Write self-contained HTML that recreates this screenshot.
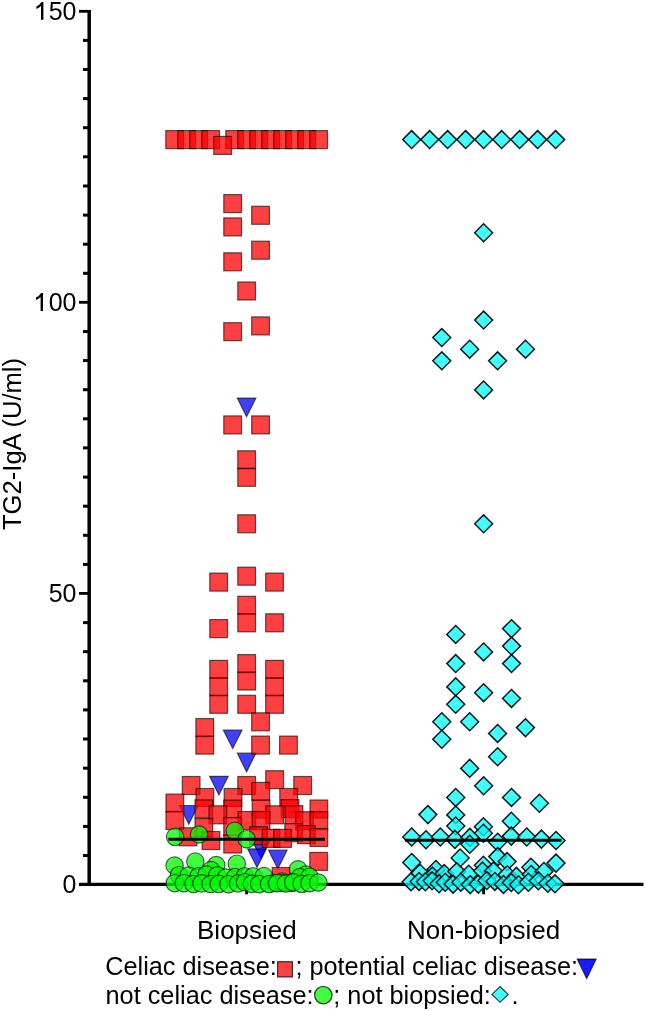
<!DOCTYPE html>
<html><head><meta charset="utf-8"><style>
html,body{margin:0;padding:0;background:#fff;}
body{width:645px;height:1011px;position:relative;overflow:hidden;}
svg.main{position:absolute;left:0;top:0;will-change:transform;}
</style></head><body>
<svg class="main" width="645" height="1011" viewBox="0 0 645 1011">
<g stroke="#000" fill="none">
<line x1="89.2" y1="9.9" x2="89.2" y2="886" stroke-width="3.5"/>
<line x1="79" y1="884.4" x2="643.5" y2="884.4" stroke-width="3.2"/>
<line x1="83" y1="855.5" x2="89" y2="855.5" stroke-width="3"/>
<line x1="83" y1="826.4" x2="89" y2="826.4" stroke-width="3"/>
<line x1="83" y1="797.3" x2="89" y2="797.3" stroke-width="3"/>
<line x1="83" y1="768.2" x2="89" y2="768.2" stroke-width="3"/>
<line x1="83" y1="739.0" x2="89" y2="739.0" stroke-width="3"/>
<line x1="83" y1="709.9" x2="89" y2="709.9" stroke-width="3"/>
<line x1="83" y1="680.8" x2="89" y2="680.8" stroke-width="3"/>
<line x1="83" y1="651.7" x2="89" y2="651.7" stroke-width="3"/>
<line x1="83" y1="622.6" x2="89" y2="622.6" stroke-width="3"/>
<line x1="83" y1="564.4" x2="89" y2="564.4" stroke-width="3"/>
<line x1="83" y1="535.3" x2="89" y2="535.3" stroke-width="3"/>
<line x1="83" y1="506.2" x2="89" y2="506.2" stroke-width="3"/>
<line x1="83" y1="477.1" x2="89" y2="477.1" stroke-width="3"/>
<line x1="83" y1="447.9" x2="89" y2="447.9" stroke-width="3"/>
<line x1="83" y1="418.8" x2="89" y2="418.8" stroke-width="3"/>
<line x1="83" y1="389.7" x2="89" y2="389.7" stroke-width="3"/>
<line x1="83" y1="360.6" x2="89" y2="360.6" stroke-width="3"/>
<line x1="83" y1="331.5" x2="89" y2="331.5" stroke-width="3"/>
<line x1="83" y1="273.3" x2="89" y2="273.3" stroke-width="3"/>
<line x1="83" y1="244.2" x2="89" y2="244.2" stroke-width="3"/>
<line x1="83" y1="215.1" x2="89" y2="215.1" stroke-width="3"/>
<line x1="83" y1="186.0" x2="89" y2="186.0" stroke-width="3"/>
<line x1="83" y1="156.8" x2="89" y2="156.8" stroke-width="3"/>
<line x1="83" y1="127.7" x2="89" y2="127.7" stroke-width="3"/>
<line x1="83" y1="98.6" x2="89" y2="98.6" stroke-width="3"/>
<line x1="83" y1="69.5" x2="89" y2="69.5" stroke-width="3"/>
<line x1="83" y1="40.4" x2="89" y2="40.4" stroke-width="3"/>
<line x1="79" y1="593.4" x2="89" y2="593.4" stroke-width="2.8"/>
<line x1="79" y1="302.3" x2="89" y2="302.3" stroke-width="2.8"/>
<line x1="79" y1="11.3" x2="89" y2="11.3" stroke-width="2.8"/>
<line x1="246.6" y1="885" x2="246.6" y2="894.3" stroke-width="2.8"/>
<line x1="483.6" y1="885" x2="483.6" y2="894.3" stroke-width="2.8"/>
</g>
<g fill="#0000ff" fill-opacity="0.75" stroke="rgba(0,0,0,0.62)" stroke-width="1.2">
<path d="M237.3 398.1H255.9L246.6 416.7Z"/>
<path d="M223.3 730.0H242.0L232.7 748.5Z"/>
<path d="M237.3 753.2H255.9L246.6 771.8Z"/>
<path d="M209.6 776.3H228.2L218.9 794.9Z"/>
<path d="M179.5 805.5H198.1L188.8 824.1Z"/>
<path d="M251.7 839.7H270.3L261.0 858.3Z"/>
<path d="M247.7 848.9H266.3L257.0 867.5Z"/>
<path d="M268.5 850.2H287.1L277.8 868.8Z"/>
</g>
<g fill="#ff0000" fill-opacity="0.75" stroke="rgba(0,0,0,0.62)" stroke-width="1.2">
<rect x="165.8" y="130.6" width="17.7" height="18.0"/>
<rect x="177.8" y="130.6" width="17.7" height="18.0"/>
<rect x="189.8" y="130.6" width="17.7" height="18.0"/>
<rect x="201.8" y="130.6" width="17.7" height="18.0"/>
<rect x="225.8" y="130.6" width="17.7" height="18.0"/>
<rect x="237.8" y="130.6" width="17.7" height="18.0"/>
<rect x="249.8" y="130.6" width="17.7" height="18.0"/>
<rect x="261.8" y="130.6" width="17.7" height="18.0"/>
<rect x="273.8" y="130.6" width="17.7" height="18.0"/>
<rect x="285.8" y="130.6" width="17.7" height="18.0"/>
<rect x="297.8" y="130.6" width="17.7" height="18.0"/>
<rect x="309.8" y="130.6" width="17.7" height="18.0"/>
<rect x="213.8" y="136.4" width="17.7" height="18.0"/>
<rect x="223.8" y="194.6" width="17.7" height="18.0"/>
<rect x="251.7" y="206.3" width="17.7" height="18.0"/>
<rect x="223.8" y="217.9" width="17.7" height="18.0"/>
<rect x="251.7" y="241.2" width="17.7" height="18.0"/>
<rect x="223.8" y="252.8" width="17.7" height="18.0"/>
<rect x="237.8" y="282.0" width="17.7" height="18.0"/>
<rect x="251.7" y="316.9" width="17.7" height="18.0"/>
<rect x="223.8" y="322.7" width="17.7" height="18.0"/>
<rect x="223.8" y="415.9" width="17.7" height="18.0"/>
<rect x="251.7" y="415.9" width="17.7" height="18.0"/>
<rect x="237.8" y="450.8" width="17.7" height="18.0"/>
<rect x="237.8" y="468.3" width="17.7" height="18.0"/>
<rect x="237.8" y="514.8" width="17.7" height="18.0"/>
<rect x="209.8" y="573.1" width="17.7" height="18.0"/>
<rect x="237.8" y="567.2" width="17.7" height="18.0"/>
<rect x="265.7" y="573.1" width="17.7" height="18.0"/>
<rect x="237.8" y="596.3" width="17.7" height="18.0"/>
<rect x="237.8" y="613.8" width="17.7" height="18.0"/>
<rect x="209.8" y="619.6" width="17.7" height="18.0"/>
<rect x="265.7" y="613.8" width="17.7" height="18.0"/>
<rect x="209.8" y="660.4" width="17.7" height="18.0"/>
<rect x="209.8" y="677.9" width="17.7" height="18.0"/>
<rect x="209.8" y="695.3" width="17.7" height="18.0"/>
<rect x="265.7" y="660.4" width="17.7" height="18.0"/>
<rect x="265.7" y="677.9" width="17.7" height="18.0"/>
<rect x="265.7" y="695.3" width="17.7" height="18.0"/>
<rect x="237.8" y="654.6" width="17.7" height="18.0"/>
<rect x="237.8" y="672.0" width="17.7" height="18.0"/>
<rect x="237.8" y="695.3" width="17.7" height="18.0"/>
<rect x="251.7" y="712.8" width="17.7" height="18.0"/>
<rect x="195.9" y="718.6" width="17.7" height="18.0"/>
<rect x="195.9" y="736.1" width="17.7" height="18.0"/>
<rect x="251.7" y="736.1" width="17.7" height="18.0"/>
<rect x="279.6" y="736.1" width="17.7" height="18.0"/>
<rect x="265.8" y="770.7" width="17.7" height="18.0"/>
<rect x="182.3" y="776.5" width="17.7" height="18.0"/>
<rect x="237.8" y="776.5" width="17.7" height="18.0"/>
<rect x="293.8" y="776.5" width="17.7" height="18.0"/>
<rect x="251.8" y="782.4" width="17.7" height="18.0"/>
<rect x="196.0" y="788.5" width="17.7" height="18.0"/>
<rect x="224.2" y="788.5" width="17.7" height="18.0"/>
<rect x="279.8" y="788.5" width="17.7" height="18.0"/>
<rect x="166.0" y="794.1" width="17.7" height="18.0"/>
<rect x="195.0" y="799.9" width="17.7" height="18.0"/>
<rect x="223.8" y="800.1" width="17.7" height="18.0"/>
<rect x="252.2" y="800.0" width="17.7" height="18.0"/>
<rect x="281.2" y="799.6" width="17.7" height="18.0"/>
<rect x="310.0" y="800.0" width="17.7" height="18.0"/>
<rect x="209.0" y="805.8" width="17.7" height="18.0"/>
<rect x="265.8" y="805.8" width="17.7" height="18.0"/>
<rect x="285.1" y="805.6" width="17.7" height="18.0"/>
<rect x="166.0" y="811.5" width="17.7" height="18.0"/>
<rect x="238.0" y="811.5" width="17.7" height="18.0"/>
<rect x="252.2" y="811.5" width="17.7" height="18.0"/>
<rect x="295.7" y="811.7" width="17.7" height="18.0"/>
<rect x="310.0" y="811.7" width="17.7" height="18.0"/>
<rect x="195.0" y="818.6" width="17.7" height="18.0"/>
<rect x="223.8" y="817.5" width="17.7" height="18.0"/>
<rect x="179.2" y="827.8" width="17.7" height="18.0"/>
<rect x="249.7" y="826.7" width="17.7" height="18.0"/>
<rect x="284.8" y="823.7" width="17.7" height="18.0"/>
<rect x="297.5" y="825.6" width="17.7" height="18.0"/>
<rect x="310.0" y="828.5" width="17.7" height="18.0"/>
<rect x="202.1" y="831.5" width="17.7" height="18.0"/>
<rect x="223.8" y="835.0" width="17.7" height="18.0"/>
<rect x="262.2" y="829.4" width="17.7" height="18.0"/>
<rect x="273.7" y="829.4" width="17.7" height="18.0"/>
<rect x="309.8" y="852.4" width="17.7" height="18.0"/>
<rect x="272.2" y="867.5" width="17.7" height="18.0"/>
</g>
<g fill="#00ff00" fill-opacity="0.75" stroke="rgba(0,0,0,0.62)" stroke-width="1.2">
<circle cx="175.1" cy="836.8" r="8.7"/>
<circle cx="199.0" cy="834.5" r="8.7"/>
<circle cx="234.8" cy="830.8" r="8.7"/>
<circle cx="246.7" cy="839.2" r="8.7"/>
<circle cx="174.6" cy="865.5" r="8.7"/>
<circle cx="195.3" cy="861.6" r="8.7"/>
<circle cx="216.2" cy="865.0" r="8.7"/>
<circle cx="236.8" cy="863.7" r="8.7"/>
<circle cx="211.0" cy="870.0" r="8.7"/>
<circle cx="298.0" cy="869.3" r="8.7"/>
<circle cx="282.0" cy="881.5" r="8.7"/>
<circle cx="306.0" cy="874.5" r="8.7"/>
<circle cx="179.0" cy="875.2" r="8.7"/>
<circle cx="188.6" cy="875.6" r="8.7"/>
<circle cx="198.4" cy="876.4" r="8.7"/>
<circle cx="206.6" cy="874.5" r="8.7"/>
<circle cx="217.2" cy="875.3" r="8.7"/>
<circle cx="225.9" cy="877.5" r="8.7"/>
<circle cx="235.3" cy="877.0" r="8.7"/>
<circle cx="244.7" cy="876.4" r="8.7"/>
<circle cx="253.1" cy="876.4" r="8.7"/>
<circle cx="263.8" cy="876.1" r="8.7"/>
<circle cx="274.0" cy="883.0" r="8.7"/>
<circle cx="282.2" cy="883.0" r="8.7"/>
<circle cx="291.9" cy="883.0" r="8.7"/>
<circle cx="300.0" cy="877.1" r="8.7"/>
<circle cx="309.5" cy="876.7" r="8.7"/>
<circle cx="174.8" cy="883.2" r="8.7"/>
<circle cx="183.8" cy="883.2" r="8.7"/>
<circle cx="193.5" cy="884.0" r="8.7"/>
<circle cx="201.4" cy="883.4" r="8.7"/>
<circle cx="210.7" cy="884.0" r="8.7"/>
<circle cx="218.8" cy="883.9" r="8.7"/>
<circle cx="228.5" cy="884.2" r="8.7"/>
<circle cx="238.1" cy="883.4" r="8.7"/>
<circle cx="245.0" cy="882.2" r="8.7"/>
<circle cx="251.9" cy="883.9" r="8.7"/>
<circle cx="259.2" cy="884.1" r="8.7"/>
<circle cx="269.1" cy="884.0" r="8.7"/>
<circle cx="277.1" cy="883.2" r="8.7"/>
<circle cx="285.8" cy="883.5" r="8.7"/>
<circle cx="293.3" cy="882.3" r="8.7"/>
<circle cx="301.6" cy="883.8" r="8.7"/>
<circle cx="309.5" cy="883.2" r="8.7"/>
<circle cx="318.3" cy="882.5" r="8.7"/>
</g>
<g fill="#00ffff" fill-opacity="0.75" stroke="rgba(0,0,0,0.9)" stroke-width="1.5">
<path d="M411.6 130.6L420.6 139.6L411.6 148.5L402.7 139.6Z"/>
<path d="M429.6 130.6L438.6 139.6L429.6 148.5L420.7 139.6Z"/>
<path d="M447.6 130.6L456.6 139.6L447.6 148.5L438.7 139.6Z"/>
<path d="M465.6 130.6L474.6 139.6L465.6 148.5L456.7 139.6Z"/>
<path d="M483.6 130.6L492.6 139.6L483.6 148.5L474.7 139.6Z"/>
<path d="M501.6 130.6L510.6 139.6L501.6 148.5L492.7 139.6Z"/>
<path d="M519.6 130.6L528.6 139.6L519.6 148.5L510.7 139.6Z"/>
<path d="M537.6 130.6L546.6 139.6L537.6 148.5L528.6 139.6Z"/>
<path d="M555.6 130.6L564.6 139.6L555.6 148.5L546.6 139.6Z"/>
<path d="M483.6 223.8L492.6 232.7L483.6 241.7L474.7 232.7Z"/>
<path d="M483.6 311.1L492.6 320.1L483.6 329.0L474.7 320.1Z"/>
<path d="M441.8 328.6L450.7 337.5L441.8 346.5L432.8 337.5Z"/>
<path d="M469.7 340.2L478.6 349.2L469.7 358.1L460.7 349.2Z"/>
<path d="M525.5 340.2L534.4 349.2L525.5 358.1L516.5 349.2Z"/>
<path d="M441.8 351.9L450.7 360.8L441.8 369.8L432.8 360.8Z"/>
<path d="M497.6 351.9L506.5 360.8L497.6 369.8L488.6 360.8Z"/>
<path d="M483.6 381.0L492.6 389.9L483.6 398.9L474.7 389.9Z"/>
<path d="M483.6 514.9L492.6 523.8L483.6 532.8L474.7 523.8Z"/>
<path d="M455.7 625.5L464.7 634.5L455.7 643.4L446.8 634.5Z"/>
<path d="M511.5 619.7L520.5 628.6L511.5 637.6L502.6 628.6Z"/>
<path d="M511.5 637.1L520.5 646.1L511.5 655.0L502.6 646.1Z"/>
<path d="M483.6 643.0L492.6 651.9L483.6 660.9L474.7 651.9Z"/>
<path d="M455.7 654.6L464.7 663.6L455.7 672.5L446.8 663.6Z"/>
<path d="M511.5 654.6L520.5 663.6L511.5 672.5L502.6 663.6Z"/>
<path d="M455.7 677.9L464.7 686.9L455.7 695.8L446.8 686.9Z"/>
<path d="M483.6 683.7L492.6 692.7L483.6 701.6L474.7 692.7Z"/>
<path d="M511.5 689.5L520.5 698.5L511.5 707.4L502.6 698.5Z"/>
<path d="M455.7 695.4L464.7 704.3L455.7 713.3L446.8 704.3Z"/>
<path d="M441.8 712.8L450.7 721.8L441.8 730.7L432.8 721.8Z"/>
<path d="M469.7 712.8L478.6 721.8L469.7 730.7L460.7 721.8Z"/>
<path d="M497.6 724.5L506.5 733.4L497.6 742.4L488.6 733.4Z"/>
<path d="M525.5 718.7L534.4 727.6L525.5 736.6L516.5 727.6Z"/>
<path d="M441.8 730.3L450.7 739.2L441.8 748.2L432.8 739.2Z"/>
<path d="M497.6 747.8L506.5 756.7L497.6 765.7L488.6 756.7Z"/>
<path d="M469.7 759.4L478.6 768.4L469.7 777.3L460.7 768.4Z"/>
<path d="M483.6 776.9L492.6 785.8L483.6 794.8L474.7 785.8Z"/>
<path d="M455.7 788.5L464.7 797.5L455.7 806.4L446.8 797.5Z"/>
<path d="M511.5 788.5L520.5 797.5L511.5 806.4L502.6 797.5Z"/>
<path d="M539.4 794.3L548.4 803.3L539.4 812.2L530.4 803.3Z"/>
<path d="M455.7 806.0L464.7 814.9L455.7 823.9L446.8 814.9Z"/>
<path d="M455.7 817.0L464.7 826.0L455.7 834.9L446.8 826.0Z"/>
<path d="M427.9 805.6L436.8 814.6L427.9 823.6L418.9 814.6Z"/>
<path d="M511.3 812.3L520.2 821.3L511.3 830.2L502.4 821.3Z"/>
<path d="M483.4 817.8L492.3 826.8L483.4 835.8L474.4 826.8Z"/>
<path d="M483.4 824.2L492.3 833.2L483.4 842.2L474.4 833.2Z"/>
<path d="M411.7 828.0L420.6 837.0L411.7 846.0L402.8 837.0Z"/>
<path d="M426.0 830.8L434.9 839.8L426.0 848.8L417.1 839.8Z"/>
<path d="M440.3 828.0L449.2 837.0L440.3 846.0L431.4 837.0Z"/>
<path d="M454.9 830.4L463.8 839.4L454.9 848.4L445.9 839.4Z"/>
<path d="M469.8 828.4L478.8 837.4L469.8 846.4L460.9 837.4Z"/>
<path d="M469.8 835.2L478.8 844.2L469.8 853.2L460.9 844.2Z"/>
<path d="M497.7 833.3L506.6 842.3L497.7 851.2L488.8 842.3Z"/>
<path d="M511.3 827.1L520.2 836.1L511.3 845.1L502.4 836.1Z"/>
<path d="M526.7 828.0L535.7 837.0L526.7 846.0L517.8 837.0Z"/>
<path d="M541.4 830.1L550.4 839.1L541.4 848.1L532.4 839.1Z"/>
<path d="M556.0 831.5L565.0 840.5L556.0 849.5L547.0 840.5Z"/>
<path d="M460.1 849.0L469.1 858.0L460.1 867.0L451.2 858.0Z"/>
<path d="M483.4 856.3L492.3 865.3L483.4 874.2L474.4 865.3Z"/>
<path d="M497.7 847.6L506.6 856.6L497.7 865.6L488.8 856.6Z"/>
<path d="M507.0 852.6L516.0 861.6L507.0 870.6L498.1 861.6Z"/>
<path d="M411.7 853.5L420.6 862.5L411.7 871.5L402.8 862.5Z"/>
<path d="M435.9 860.5L444.8 869.5L435.9 878.5L426.9 869.5Z"/>
<path d="M530.9 858.3L539.9 867.3L530.9 876.2L521.9 867.3Z"/>
<path d="M556.0 854.1L565.0 863.1L556.0 872.1L547.0 863.1Z"/>
<path d="M420.0 864.3L428.9 873.2L420.0 882.2L411.1 873.2Z"/>
<path d="M432.4 867.1L441.3 876.0L432.4 885.0L423.4 876.0Z"/>
<path d="M444.2 864.6L453.1 873.5L444.2 882.5L435.2 873.5Z"/>
<path d="M456.7 862.7L465.6 871.6L456.7 880.6L447.7 871.6Z"/>
<path d="M468.7 865.3L477.7 874.3L468.7 883.2L459.8 874.3Z"/>
<path d="M482.5 862.1L491.5 871.1L482.5 880.0L473.6 871.1Z"/>
<path d="M493.3 862.1L502.3 871.0L493.3 880.0L484.4 871.0Z"/>
<path d="M507.2 865.7L516.1 874.7L507.2 883.6L498.2 874.7Z"/>
<path d="M516.4 867.4L525.4 876.4L516.4 885.3L507.5 876.4Z"/>
<path d="M531.2 865.5L540.2 874.4L531.2 883.4L522.3 874.4Z"/>
<path d="M543.9 862.5L552.9 871.4L543.9 880.4L535.0 871.4Z"/>
<path d="M411.0 872.9L419.9 881.9L411.0 890.8L402.1 881.9Z"/>
<path d="M419.1 872.5L428.1 881.5L419.1 890.4L410.2 881.5Z"/>
<path d="M425.4 872.8L434.3 881.7L425.4 890.7L416.4 881.7Z"/>
<path d="M432.1 871.9L441.1 880.8L432.1 889.8L423.2 880.8Z"/>
<path d="M439.1 874.8L448.0 883.8L439.1 892.7L430.1 883.8Z"/>
<path d="M445.2 873.3L454.2 882.2L445.2 891.2L436.3 882.2Z"/>
<path d="M453.1 875.2L462.0 884.1L453.1 893.1L444.1 884.1Z"/>
<path d="M460.8 873.2L469.8 882.2L460.8 891.1L451.9 882.2Z"/>
<path d="M470.2 875.7L479.1 884.6L470.2 893.6L461.2 884.6Z"/>
<path d="M478.3 875.2L487.2 884.1L478.3 893.1L469.3 884.1Z"/>
<path d="M486.8 871.6L495.8 880.5L486.8 889.5L477.9 880.5Z"/>
<path d="M494.8 872.5L503.8 881.4L494.8 890.4L485.9 881.4Z"/>
<path d="M503.5 875.5L512.4 884.4L503.5 893.4L494.5 884.4Z"/>
<path d="M511.3 873.6L520.3 882.5L511.3 891.5L502.4 882.5Z"/>
<path d="M518.4 875.8L527.4 884.7L518.4 893.7L509.5 884.7Z"/>
<path d="M528.4 873.3L537.4 882.2L528.4 891.2L519.5 882.2Z"/>
<path d="M538.4 871.9L547.3 880.8L538.4 889.8L529.4 880.8Z"/>
<path d="M547.8 874.3L556.7 883.2L547.8 892.2L538.8 883.2Z"/>
<path d="M555.0 874.9L564.0 883.8L555.0 892.8L546.0 883.8Z"/>
</g>
<line x1="168.4" y1="839.3" x2="325" y2="839.3" stroke="#000" stroke-width="3"/>
<line x1="404.8" y1="840.2" x2="561.6" y2="840.2" stroke="#000" stroke-width="3"/>
<g font-family="Liberation Sans, sans-serif" font-size="26" fill="#000">
<text transform="translate(76.4 20.1) scale(0.96 1)" text-anchor="end">50</text>
<text transform="translate(76.4 311.2) scale(0.96 1)" text-anchor="end">00</text>
<text transform="translate(76.4 602.3) scale(0.96 1)" text-anchor="end">50</text>
<text transform="translate(76.4 893.4) scale(0.96 1)" text-anchor="end">0</text>
<path transform="translate(0.2 0.0)" d="M43.2 1.9V19.8H40.8V5.9Q38.8 7.8 36.2 8.9V6.4Q39.6 4.8 41.3 1.9Z" fill="#000"/>
<path transform="translate(-0.2 291.1)" d="M43.2 1.9V19.8H40.8V5.9Q38.8 7.8 36.2 8.9V6.4Q39.6 4.8 41.3 1.9Z" fill="#000"/>
<text transform="translate(21,444) rotate(-90)" text-anchor="middle" font-size="25.6">TG2-IgA (U/ml)</text>
<text x="246.9" y="938.8" text-anchor="middle">Biopsied</text>
<text x="483.6" y="938.8" text-anchor="middle">Non-biopsied</text>
</g>
<g font-family="Liberation Sans, sans-serif" font-size="25.3" fill="#000">
<text x="105.2" y="975">Celiac disease:</text>
<text x="295.4" y="975">; potential celiac disease:</text>
<text x="105.5" y="1004">not celiac disease:</text>
<text x="333.3" y="1004">; not biopsied:</text>
<text x="511.5" y="1004">.</text>
</g>
<rect x="277.6" y="961.7" width="14.8" height="15.2" fill="#ff0000" fill-opacity="0.75" stroke="rgba(0,0,0,0.75)" stroke-width="1.2"/>
<path d="M577.2 959.1H596.2L586.7 978.4Z" fill="#0000ff" fill-opacity="0.9" stroke="rgba(0,0,0,0.7)" stroke-width="1.1"/>
<circle cx="323.3" cy="995.1" r="8.7" fill="#00ff00" fill-opacity="0.75" stroke="rgba(0,0,0,0.75)" stroke-width="1.3"/>
<path d="M500.1 986.5L508.2 994.4L500.1 1002.3L492 994.4Z" fill="#00ffff" fill-opacity="0.75" stroke="rgba(0,0,0,0.8)" stroke-width="1.1"/>
</svg>
</body></html>
